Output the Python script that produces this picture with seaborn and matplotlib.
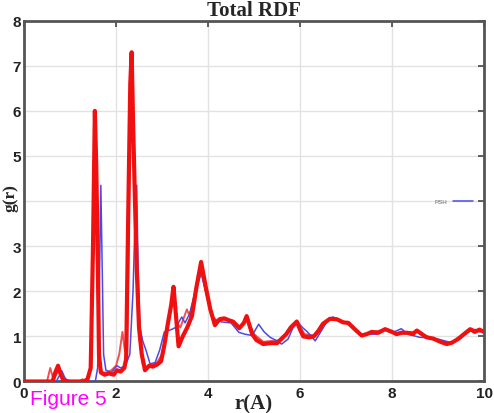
import matplotlib
matplotlib.use("Agg")
import matplotlib.pyplot as plt
import seaborn as sns
import pandas as pd

# Radial distribution function g(r) sampled along r (Angstrom)
r_red = [0.0, 0.62, 0.68, 0.74, 0.80, 0.86, 1.00, 1.30, 1.38, 1.45, 1.50, 1.54, 1.57, 1.60,
         1.63, 1.67, 1.75, 1.85, 1.95, 2.02, 2.10, 2.18, 2.22, 2.27, 2.31, 2.34, 2.37, 2.40,
         2.45, 2.50, 2.56, 2.63, 2.72, 2.80, 2.90, 2.98, 3.05, 3.13, 3.20, 3.25, 3.30, 3.36,
         3.45, 3.55, 3.65, 3.75, 3.85, 3.95, 4.05, 4.15, 4.25, 4.35, 4.45, 4.55, 4.68, 4.78,
         4.84, 4.90, 4.96, 5.05, 5.20, 5.35, 5.50, 5.60, 5.70, 5.80, 5.93, 6.00, 6.07, 6.20,
         6.30, 6.40, 6.50, 6.65, 6.80, 6.94, 7.05, 7.20, 7.34, 7.45, 7.56, 7.70, 7.85, 8.00,
         8.10, 8.20, 8.33, 8.45, 8.54, 8.65, 8.75, 8.90, 9.05, 9.19, 9.30, 9.40, 9.48, 9.60,
         9.70, 9.80, 9.90, 10.0]
g_red = [0.0, 0.0, 0.20, 0.35, 0.15, 0.02, 0.0, 0.0, 0.05, 0.30, 3.0, 6.0, 4.8, 3.0,
         0.6, 0.2, 0.15, 0.18, 0.15, 0.25, 0.22, 0.30, 0.50, 4.0, 6.6, 7.3, 5.8, 4.5,
         2.5, 1.2, 0.6, 0.25, 0.35, 0.33, 0.38, 0.45, 0.8, 1.3, 1.7, 2.1, 1.5, 0.78,
         1.0, 1.2, 1.45, 2.1, 2.65, 2.1, 1.6, 1.25, 1.38, 1.4, 1.36, 1.32, 1.18, 1.3,
         1.45, 1.25, 1.05, 0.92, 0.83, 0.85, 0.85, 0.95, 1.05, 1.2, 1.33, 1.15, 1.0, 0.98,
         1.0, 1.12, 1.28, 1.39, 1.38, 1.31, 1.3, 1.15, 1.02, 1.05, 1.1, 1.08, 1.16, 1.1,
         1.05, 1.08, 1.08, 1.05, 1.13, 1.05, 0.98, 0.95, 0.88, 0.83, 0.86, 0.92, 0.98, 1.08,
         1.16, 1.1, 1.15, 1.1]

r_red2 = [0.0, 0.50, 0.57, 0.64, 0.70, 0.76, 0.82, 0.90, 1.20, 1.27, 1.33, 1.40, 1.46, 1.50,
          1.53, 1.56, 1.60, 1.64, 1.70, 1.80, 1.90, 2.00, 2.07, 2.14, 2.19, 2.24, 2.28, 2.32,
          2.35, 2.39, 2.44, 2.50, 2.58, 2.65, 2.75, 2.88, 3.00, 3.10, 3.18, 3.25, 3.32, 3.40,
          3.47, 3.54, 3.60, 3.70, 3.84, 3.95, 4.08, 4.20, 4.40, 4.55, 4.70, 4.85, 5.00, 5.20,
          5.40, 5.60, 5.80, 5.95, 6.10, 6.30, 6.50, 6.70, 6.90, 7.10, 7.35, 7.60, 7.85, 8.10,
          8.35, 8.55, 8.80, 9.05, 9.25, 9.45, 9.65, 9.80, 10.0]
g_red2 = [0.0, 0.0, 0.30, 0.05, 0.15, 0.30, 0.12, 0.0, 0.0, 0.05, 0.02, 0.08, 0.4, 3.2,
          5.0, 4.0, 2.0, 0.4, 0.2, 0.2, 0.25, 0.35, 0.6, 1.1, 0.7, 0.6, 3.5, 6.4,
          6.8, 5.0, 2.8, 1.0, 0.4, 0.3, 0.35, 0.4, 0.6, 1.2, 1.6, 1.95, 1.3, 1.2,
          1.4, 1.6, 1.45, 1.9, 2.55, 2.0, 1.45, 1.35, 1.38, 1.35, 1.2, 1.4, 1.05, 0.88,
          0.9, 0.92, 1.15, 1.3, 1.05, 1.02, 1.3, 1.42, 1.35, 1.25, 1.02, 1.1, 1.15, 1.05,
          1.1, 1.1, 0.98, 0.88, 0.85, 0.95, 1.12, 1.15, 1.1]

r_psh = [0.0, 0.70, 0.78, 0.82, 0.88, 0.95, 1.55, 1.60, 1.63, 1.67, 1.70, 1.73, 1.78, 1.90,
         2.02, 2.10, 2.20, 2.30, 2.37, 2.42, 2.45, 2.48, 2.52, 2.58, 2.65, 2.74, 2.85, 2.95,
         3.05, 3.20, 3.30, 3.43, 3.50, 3.60, 3.70, 3.85, 3.95, 4.10, 4.30, 4.50, 4.67, 4.80,
         4.96, 5.10, 5.22, 5.35, 5.50, 5.60, 5.74, 5.85, 5.93, 6.05, 6.15, 6.25, 6.33, 6.45,
         6.60, 6.72, 6.85, 7.00, 7.15, 7.34, 7.50, 7.67, 7.85, 8.00, 8.20, 8.35, 8.60, 8.80,
         9.00, 9.26, 9.45, 9.60, 9.75, 9.90, 10.0]
g_psh = [0.0, 0.0, 0.15, 0.24, 0.10, 0.0, 0.0, 0.30, 1.5, 4.35, 2.5, 0.6, 0.25, 0.2,
         0.35, 0.3, 0.35, 0.6, 2.0, 3.8, 4.35, 2.5, 1.2, 0.9, 0.7, 0.39, 0.42, 0.7,
         1.1, 1.15, 1.2, 1.43, 1.3, 1.5, 1.9, 2.4, 2.0, 1.38, 1.32, 1.3, 1.09, 1.05,
         1.02, 1.27, 1.1, 0.98, 0.9, 0.83, 0.94, 1.2, 1.35, 1.2, 1.11, 1.0, 0.9, 1.1,
         1.35, 1.43, 1.35, 1.3, 1.18, 1.02, 1.05, 1.05, 1.14, 1.08, 1.17, 1.05, 0.98, 0.97,
         0.94, 0.87, 0.92, 1.05, 1.16, 1.1, 1.12]

x_ticks = [0, 2, 4, 6, 8, 10]
y_ticks = [0, 1, 2, 3, 4, 5, 6, 7, 8]
# the "4" sits under the g(r) axis label
y_tick_labels = ["0", "1", "2", "3", "", "5", "6", "7", "8"]

sns.set_theme(style="whitegrid")
plt.rcParams["font.family"] = ["Liberation Sans", "DejaVu Sans"]

fig = plt.figure(figsize=(4.94, 4.14), dpi=100)
ax = fig.add_axes([0.0486, 0.0761, 0.9312, 0.8715])

red2 = pd.DataFrame({"r": r_red2, "g": g_red2})
red = pd.DataFrame({"r": r_red, "g": g_red})
psh = pd.DataFrame({"r": r_psh, "g": g_psh})

sns.lineplot(data=red2, x="r", y="g", ax=ax, color="#f25050", lw=1.4, sort=False,
             estimator=None, label="_red2")
sns.lineplot(data=psh, x="r", y="g", ax=ax, color="#4a4ae8", lw=1.1, sort=False,
             estimator=None, label="PSH", zorder=3)
sns.lineplot(data=red, x="r", y="g", ax=ax, color="#f01010", lw=3.0, sort=False,
             estimator=None, label="_red", zorder=4)

ax.set_xlim(0, 10)
ax.set_ylim(0, 8)
ax.set_xticks(x_ticks)
ax.set_yticks(y_ticks)
ax.set_xticklabels([str(v) for v in x_ticks], fontweight="bold", fontsize=11)
ax.set_yticklabels(y_tick_labels, fontweight="bold", fontsize=11)
ax.grid(True, color="#e2e2e2", lw=1.0)
ax.tick_params(direction="in", length=4, width=1.2, color="#444444",
               top=True, right=True, pad=2, labelcolor="#222222")
ax.tick_params(axis="x", pad=3)
for s in ax.spines.values():
    s.set_color("#555555")
    s.set_linewidth(2.0)

ax.set_title("Total RDF", fontfamily="Liberation Serif", fontweight="bold",
             fontsize=15, pad=4)
ax.set_xlabel("r(A)", fontfamily="Liberation Serif", fontweight="bold",
              fontsize=15, va="top")
ax.xaxis.set_label_coords(0.50, -0.034)
ax.set_ylabel("g(r)", fontfamily="Liberation Serif", fontweight="bold",
              fontsize=12.5)
ax.yaxis.set_label_coords(-0.012, 0.51)

leg = ax.legend(loc="center right", bbox_to_anchor=(0.975, 0.5), frameon=False,
                fontsize=4.5, markerfirst=False, handlelength=3.2,
                borderaxespad=0.0, borderpad=0.0, handletextpad=0.8)
for t in leg.get_texts():
    t.set_color("#666666")

fig.text(0.061, 0.022, "Figure 5", color="#ff00ff", fontsize=15)

fig.savefig("out.png", dpi=100)
